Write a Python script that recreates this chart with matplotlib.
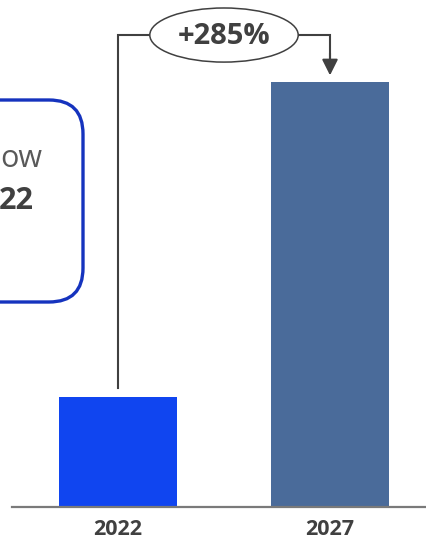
import matplotlib.pyplot as plt
from matplotlib.patches import FancyBboxPatch, Ellipse

plt.rcParams['font.family'] = ['Open Sans', 'DejaVu Sans']

years = ['2022', '2027']
values = [1.0, 3.85]
colors = ['#1045F0', '#4A6B9A']
growth_label = '+285%'

fig = plt.figure(figsize=(4.26, 5.41), dpi=100)
W, H = 426, 541
# axes: bottom at baseline, x scaled so bars sit at 118px / 330px
ax = fig.add_axes([0, 34 / H, 1, 1 - 34 / H])
ax.set_xlim(-118 / 212, 1 + 96 / 212)
ax.set_ylim(0, 507 / 110.4)
ax.axis('off')

x = range(len(years))
ax.bar(x, values, width=118 / 212, color=colors, zorder=2)

# baseline
ax.plot([-106 / 212, 1 + 96 / 212], [0, 0], color='#7a7a7a', lw=1.6,
        clip_on=False, zorder=3)

# year labels
for i, y in enumerate(years):
    ax.text(i, -0.2, y, ha='center', va='center', fontsize=15.5,
            fontweight='bold', color='#404040')

# growth bracket
top = 4.275
ell_w, ell_h = 0.70, 0.49
mid = 0.5
lc = '#404040'
ax.plot([0, 0, mid - ell_w / 2], [values[0] + 0.08, top, top],
        color=lc, lw=1.5, solid_joinstyle='miter', zorder=3)
ax.plot([mid + ell_w / 2, 1, 1], [top, top, values[1] + 0.2],
        color=lc, lw=1.5, solid_joinstyle='miter', zorder=3)
ax.annotate('', xy=(1, values[1] + 0.06), xytext=(1, values[1] + 0.26),
            arrowprops=dict(arrowstyle='-|>', color=lc, lw=1.5,
                            mutation_scale=24, shrinkA=0, shrinkB=0))
ax.add_patch(Ellipse((mid, top), ell_w, ell_h, facecolor='white',
                     edgecolor=lc, lw=1.1, zorder=4))
ax.text(mid, top - 0.01, growth_label, ha='center', va='center', fontsize=21,
        fontweight='bold', color='#404040', zorder=5)

# callout box cut at left edge
box = FancyBboxPatch((-100, 541 - 302), 183, 202,
                     boxstyle='round,pad=0,rounding_size=34',
                     transform=None, facecolor='white', edgecolor='#1533BE',
                     lw=2.4, zorder=1)
fig.patches.append(box)
fig.text(42 / W, 1 - 159 / H, 'ow', ha='right', va='center', fontsize=22,
         color='#595959')
fig.text(34 / W, 1 - 201 / H, '22', ha='right', va='center', fontsize=22,
         fontweight='bold', color='#404040')

fig.savefig('out.png', dpi=100)
